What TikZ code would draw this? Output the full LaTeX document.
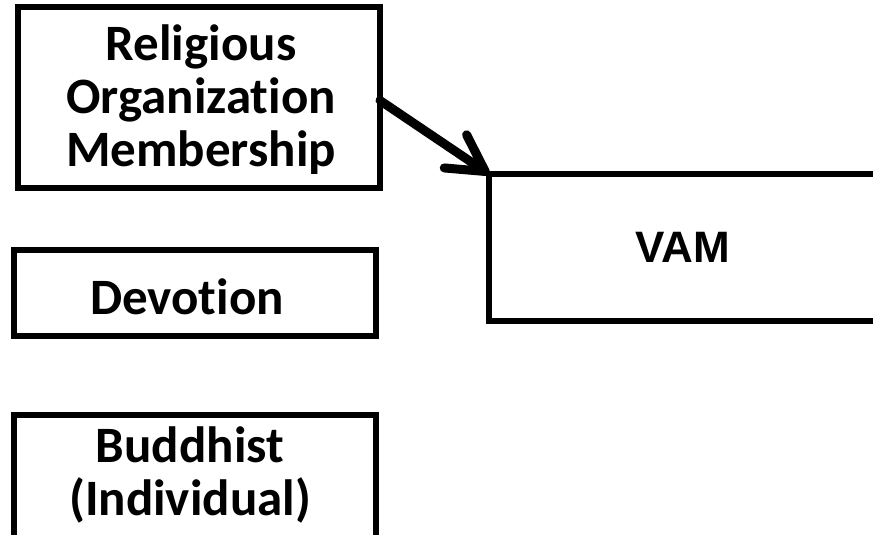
\documentclass[tikz,border=0pt]{standalone}
\usepackage{fontspec}
\setmainfont[RawFeature={-liga}]{Carlito}
\newfontfamily\vamfont{Liberation Sans}
\usetikzlibrary{arrows.meta}
\begin{document}
\begin{tikzpicture}[x=1pt,y=-1pt,
  varbox/.style={draw=black, line width=5.5pt, inner sep=0pt, outer sep=0pt,
    minimum width=#1, align=center},
  lbl/.style={font=\fontsize{51}{53}\selectfont\bfseries, align=center, inner sep=0pt},
  effect/.style={line width=9pt, line cap=round,
    -{Straight Barb[length=36pt, width=40pt, round]}}]
  \useasboundingbox (0,0) rectangle (873,535);
  \clip (0,0) rectangle (873,535);
  % predictor boxes
  \node[varbox=362pt, minimum height=181pt] (rom) at (199,97.5) {};
  \node[varbox=362pt, minimum height=86pt] (dev) at (195,293) {};
  \node[varbox=362pt, minimum height=145pt] (bud) at (195,487.5) {};
  % outcome box
  \node[varbox=388pt, minimum height=147pt] (vam) at (683,247.5) {};
  % labels
  \node[lbl] (romtxt) at ([xshift=2pt,yshift=-2pt]rom.center) {Religious\\Organization\\Membership};
  \node[lbl] (devtxt) at ([xshift=-8pt,yshift=-4pt]dev.center) {Devotion};
  \node[lbl] (budtxt) at ([xshift=-5pt]195,475) {Buddhist\\(Individual)};
  \node[font=\fontsize{44}{48}\selectfont\vamfont\bfseries, inner sep=0pt] (vamtxt) at (vam.center) {VAM};
  % path
  \draw[effect] ([yshift=-3pt]rom.east) -- (vam.north west);
\end{tikzpicture}
\end{document}
